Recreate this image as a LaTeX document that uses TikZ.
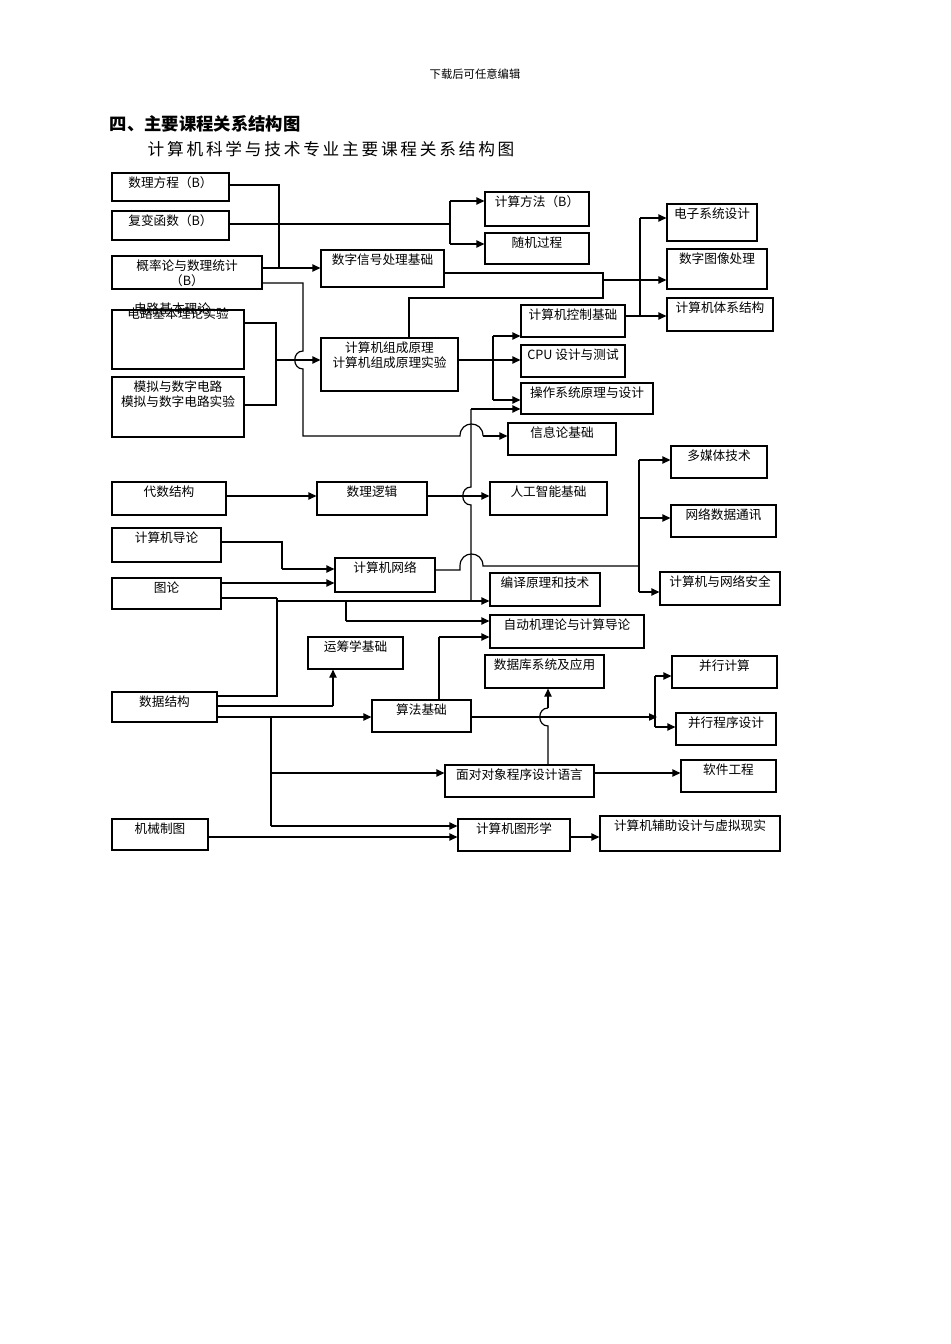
\documentclass[tikz,border=0pt]{standalone}
\usepackage{fontspec}
\setmainfont{Noto Sans CJK SC}
\usetikzlibrary{arrows.meta}
\tikzset{
 box/.style={draw,line width=0.9pt,inner sep=0pt},
 txt/.style={font=\fontsize{9.5}{11.5}\selectfont,align=center,inner sep=0pt},
 ln/.style={line width=0.9pt},
 arr/.style={line width=0.9pt,-{Triangle[length=6pt,width=5.5pt]}}
}
\newcommand\bx[6]{\node[box,minimum width={(#4-#2)*0.75pt},minimum height={(#5-#3)*0.75pt}] (#1) at ({(#2+#4)/2},{(#3+#5)/2}) {};
\node[txt,anchor=north] (#1t) at ([yshift=-3pt]#1.north) {#6};}
\newcommand\hopv[2]{(#1,#2-9) .. controls (#1-12,#2-9) and (#1-12,#2+9) .. (#1,#2+9)}
\begin{document}
\begin{tikzpicture}[x=0.75pt,y=-0.75pt]
\useasboundingbox (0,0) rectangle (950,1344);
\node[font=\fontsize{8.5}{10}\selectfont] (hd) at (475,74) {下载后可任意编辑};
\node[font=\fontsize{13}{15}\selectfont\bfseries,anchor=west] (t1) at (105,124) {四、主要课程关系结构图};
\node[font=\fontsize{12.5}{15}\selectfont,anchor=west] (t2) at (143,149) {计\,算\,机\,科\,学\,与\,技\,术\,专\,业\,主\,要\,课\,程\,关\,系\,结\,构\,图};

\bx{A}{112}{173}{229}{201}{数理方程（B）}
\bx{B}{112}{211}{229}{240}{复变函数（B）}
\bx{C}{112}{256}{262}{289}{概率论与数理统计\\（B）}
\bx{D}{112}{310}{244}{369}{}
\node[txt] (Dt1) at (172,309) {电路基本理论};
\node[txt] (Dt2) at (178,314) {电路基本理论实验};
\bx{E}{112}{377}{244}{437}{模拟与数字电路\\模拟与数字电路实验}
\bx{F}{321}{250}{444}{287}{数字信号处理基础}
\bx{G}{321}{338}{458}{391}{计算机组成原理\\计算机组成原理实验}
\bx{H}{485}{192}{589}{226}{计算方法（B）}
\bx{I}{485}{233}{589}{264}{随机过程}
\bx{J}{667}{204}{757}{241}{电子系统设计}
\bx{K}{667}{249}{767}{289}{数字图像处理}
\bx{L}{667}{298}{773}{331}{计算机体系结构}
\bx{M}{521}{305}{625}{337}{计算机控制基础}
\bx{N}{521}{345}{625}{377}{CPU 设计与测试}
\bx{O}{521}{383}{653}{414}{操作系统原理与设计}
\bx{P}{508}{423}{616}{455}{信息论基础}
\bx{Q}{671}{446}{767}{478}{多媒体技术}
\bx{R}{112}{482}{226}{515}{代数结构}
\bx{S}{317}{482}{427}{515}{数理逻辑}
\bx{T}{490}{482}{607}{515}{人工智能基础}
\bx{U}{112}{528}{221}{562}{计算机导论}
\bx{V}{335}{558}{435}{592}{计算机网络}
\bx{W}{671}{505}{776}{537}{网络数据通讯}
\bx{X}{112}{578}{221}{609}{图论}
\bx{Y}{490}{573}{600}{606}{编译原理和技术}
\bx{Z}{660}{572}{780}{605}{计算机与网络安全}
\bx{AA}{490}{615}{644}{648}{自动机理论与计算导论}
\bx{AB}{308}{637}{403}{669}{运筹学基础}
\bx{AC}{485}{655}{604}{688}{数据库系统及应用}
\bx{AD}{672}{656}{777}{688}{并行计算}
\bx{AE}{112}{692}{217}{722}{数据结构}
\bx{AF}{372}{700}{471}{732}{算法基础}
\bx{AG}{676}{713}{776}{745}{并行程序设计}
\bx{AH}{445}{765}{594}{797}{面对对象程序设计语言}
\bx{AI}{681}{760}{776}{792}{软件工程}
\bx{AJ}{112}{819}{208}{850}{机械制图}
\bx{AK}{458}{819}{570}{851}{计算机图形学}
\bx{AL}{600}{816}{780}{851}{计算机辅助设计与虚拟现实}

% top-left group
\draw[ln] (A.east|-0,185) -- (279,185) -- (279,268);
\draw[arr] (C.east|-0,268) -- (F.west|-0,268);
\draw[ln] (B.east|-0,224) -- (450,224);
\draw[ln] (450,201) -- (450,244);
\draw[arr] (450,201) -- (H.west|-0,201);
\draw[arr] (450,244) -- (I.west|-0,244);
% C to info theory
\draw[ln] (C.east|-0,283) -- (303,283) -- (303,351) .. controls (292,351) and (292,369) .. (303,369) -- (303,436) -- (460,436)
  .. controls (460,420) and (483,420) .. (483,436);
\draw[arr] (483,436) -- (P.west|-0,436);
% circuits to G
\draw[ln] (D.east|-0,323) -- (276,323) -- (276,405) -- (E.east|-0,405);
\draw[arr] (276,360) -- (G.west|-0,360);
% G outputs
\draw[ln] (G.east|-0,360) -- (493,360);
\draw[ln] (493,336) -- (493,400);
\draw[arr] (493,336) -- (M.west|-0,336);
\draw[arr] (493,360) -- (N.west|-0,360);
\draw[arr] (493,400) -- (O.west|-0,400);
% F and G to image processing
\draw[ln] (F.east|-0,273) -- (603,273) -- (603,298) -- (409,298) -- (G.north-|409,0);
\draw[arr] (603,280) -- (K.west|-0,280);
% M to right group
\draw[arr] (M.east|-0,316) -- (L.west|-0,316);
\draw[ln] (640,218) -- (640,316);
\draw[arr] (640,218) -- (J.west|-0,218);
% long vertical x=471
\draw[ln] (471,601) -- (471,505) .. controls (460,505) and (460,487) .. (471,487) -- (471,409);
\draw[arr] (471,409) -- (O.west|-0,409);
% algebra / logic
\draw[arr] (R.east|-0,496) -- (S.west|-0,496);
\draw[arr] (S.east|-0,496) -- (T.west|-0,496);
% intro / graph to network
\draw[ln] (U.east|-0,542) -- (282,542) -- (282,569);
\draw[arr] (282,569) -- (V.west|-0,569);
\draw[arr] (X.east|-0,583) -- (V.west|-0,583);
% network outputs
\draw[ln] (V.east|-0,570) -- (460,570) -- (460,566) .. controls (460,550) and (483,550) .. (483,566) -- (639,566);
\draw[ln] (639,460) -- (639,592);
\draw[arr] (639,460) -- (Q.west|-0,460);
\draw[arr] (639,518) -- (W.west|-0,518);
\draw[arr] (639,592) -- (Z.west|-0,592);
% graph / data structure to compiler etc
\draw[ln] (X.east|-0,598) -- (277,598);
\draw[ln] (AE.east|-0,696) -- (277,696) -- (277,598);
\draw[arr] (277,601) -- (Y.west|-0,601);
\draw[ln] (346,601) -- (346,621);
\draw[arr] (346,621) -- (AA.west|-0,621);
% data structure outputs
\draw[ln] (AE.east|-0,706) -- (333,706);
\draw[arr] (333,706) -- (AB.south-|333,0);
\draw[arr] (AE.east|-0,717) -- (AF.west|-0,717);
\draw[ln] (271,717) -- (271,826);
\draw[arr] (271,773) -- (AH.west|-0,773);
\draw[arr] (271,826) -- (AK.west|-0,826);
\draw[arr] (AJ.east|-0,837) -- (AK.west|-0,837);
% algorithm
\draw[ln] (AF.north-|439,0) -- (439,637);
\draw[arr] (439,637) -- (AA.west|-0,637);
\draw[arr] (AF.east|-0,717) -- (657,717);
\draw[ln] (655,676) -- (655,727);
\draw[arr] (655,676) -- (AD.west|-0,676);
\draw[arr] (655,727) -- (AG.west|-0,727);
% OOP
\draw[ln] (AH.north-|548,0) -- (548,726) .. controls (537,726) and (537,708) .. (548,708);
\draw[arr] (548,708) -- (AC.south-|548,0);
\draw[arr] (AH.east|-0,773) -- (AI.west|-0,773);
\draw[arr] (AK.east|-0,837) -- (AL.west|-0,837);
\end{tikzpicture}
\end{document}
